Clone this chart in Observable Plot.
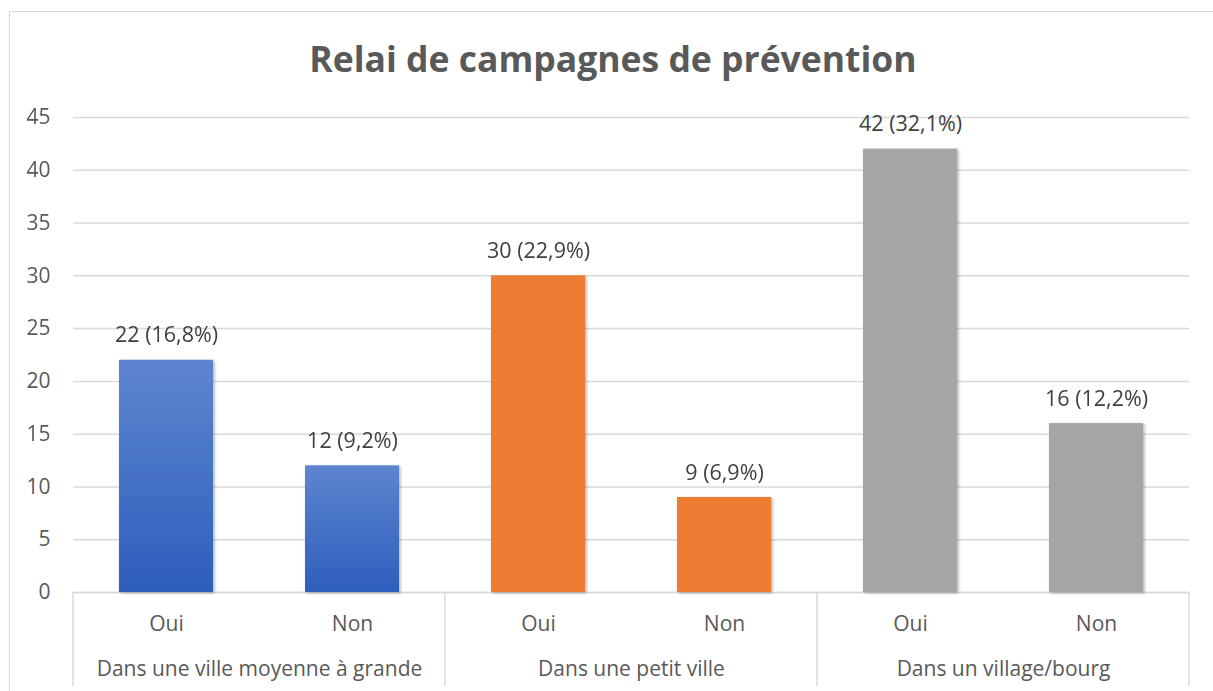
<!DOCTYPE html>
<html><head><meta charset="utf-8">
<script src="https://cdn.jsdelivr.net/npm/d3@7"></script>
<script src="https://cdn.jsdelivr.net/npm/@observablehq/plot@0.6"></script>
<style>
html,body{margin:0;padding:0;background:#fff;overflow:hidden;}
#wrap{position:relative;width:1213px;height:691px;overflow:hidden;}
#frame{position:absolute;left:9px;top:11px;width:1240px;height:740px;border:1px solid #D9D9D9;box-sizing:border-box;}
#chart{position:absolute;left:0;top:0;}
#title{position:absolute;left:0;width:1226px;top:41px;text-align:center;font-family:"Open Sans",sans-serif;font-weight:bold;font-size:35.5px;line-height:35px;color:#595959;}
</style></head><body>
<div id="wrap"><div id="frame"></div><div id="chart"></div><div id="title">Relai de campagnes de prévention</div></div>
<script>
const groups = ["Dans une ville moyenne à grande", "Dans une petit ville", "Dans un village/bourg"];
const answers = ["Oui", "Non"];
const counts = [22, 12, 30, 9, 42, 16];
const percents = [16.8, 9.2, 22.9, 6.9, 32.1, 12.2];
const yTicks = [0, 5, 10, 15, 20, 25, 30, 35, 40, 45];
const groupColors = ["url(#blueGrad)", "#ED7D31", "#A5A5A5"];

const rows = [];
groups.forEach((g, i) => answers.forEach((a, j) => {
  const k = i * answers.length + j;
  rows.push({group: g, answer: a, count: counts[k], pct: percents[k]});
}));
const fmtPct = p => p.toFixed(1).replace(".", ",") + "%";

const plot = Plot.plot({
  width: 1213, height: 691,
  marginTop: 117, marginBottom: 99, marginLeft: 72, marginRight: 23,
  style: {fontFamily: "'Open Sans', sans-serif", fontSize: "21px", color: "#595959", background: "transparent"},
  fx: {domain: groups, padding: 0, label: null},
  x: {domain: answers, paddingInner: 0.495, paddingOuter: 0.2475, label: null},
  y: {domain: [0, 45], label: null},
  color: {domain: groups, range: groupColors},
  marks: [
    Plot.gridY(yTicks, {stroke: "#D9D9D9", strokeOpacity: 1, strokeWidth: 1.5}),
    Plot.ruleY([0], {stroke: "#D9D9D9", strokeWidth: 1.5}),
    Plot.barY(rows, {fx: "group", x: "answer", y: "count", fill: "group"}),
    Plot.text(rows, {fx: "group", x: "answer", y: "count", text: d => `${d.count} (${fmtPct(d.pct)})`, dy: -18, lineAnchor: "bottom", fill: "#404040", fontSize: 21.5}),
    Plot.axisY(yTicks, {tickSize: 0, tickPadding: 23, fontSize: 21, label: null}),
    Plot.axisX({anchor: "bottom", tickSize: 0, tickPadding: 24, fontSize: 21, label: null}),
    Plot.axisFx({anchor: "bottom", tickSize: 0, tickPadding: 69, fontSize: 21, label: null})
  ]
});

const svg = d3.select(plot);
const defs = svg.insert("defs", ":first-child");
const lg = defs.append("linearGradient").attr("id", "blueGrad").attr("x1", 0).attr("y1", 0).attr("x2", 0).attr("y2", 1);
lg.append("stop").attr("offset", "0%").attr("stop-color", "#5E85CF");
lg.append("stop").attr("offset", "100%").attr("stop-color", "#2D5EBC");
const f = defs.append("filter").attr("id", "shadow").attr("x", "-20%").attr("y", "-20%").attr("width", "140%").attr("height", "140%");
f.append("feDropShadow").attr("dx", 1.5).attr("dy", 1).attr("stdDeviation", 1.5).attr("flood-color", "#000").attr("flood-opacity", 0.3);
svg.selectAll('g[aria-label="bar"]').attr("filter", "url(#shadow)");

// facet separators below the axis
const fx = plot.scale("fx");
const y = plot.scale("y");
const y0 = y.apply(0);
const edges = groups.map(g => fx.apply(g)).concat([fx.apply(groups[groups.length - 1]) + fx.bandwidth]);
svg.append("g").selectAll("line").data(edges).join("line")
  .attr("x1", d => d).attr("x2", d => d)
  .attr("y1", y0).attr("y2", y0 + 94)
  .attr("stroke", "#D9D9D9").attr("stroke-width", 1.5);

document.getElementById("chart").appendChild(plot);
</script>
</body></html>
